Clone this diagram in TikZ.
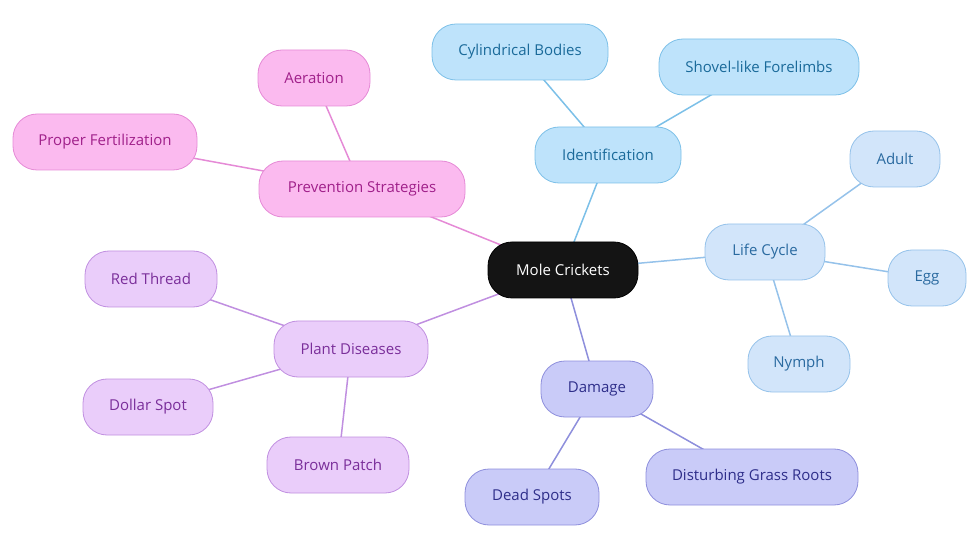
\documentclass[tikz,border=0pt]{standalone}
\usepackage{fontspec}
\setmainfont{Open Sans}
\usetikzlibrary{backgrounds}
\definecolor{bF}{HTML}{BEE3FB}\definecolor{bD}{HTML}{7CC0E8}\definecolor{bT}{HTML}{1A6A9A}
\definecolor{lF}{HTML}{D2E5FA}\definecolor{lD}{HTML}{95C2EA}\definecolor{lT}{HTML}{2A6AA0}
\definecolor{dF}{HTML}{C9CBF8}\definecolor{dD}{HTML}{8E8FDC}\definecolor{dT}{HTML}{2E2E8A}
\definecolor{pF}{HTML}{EACDFA}\definecolor{pD}{HTML}{C08FE0}\definecolor{pT}{HTML}{7A2E9A}
\definecolor{mF}{HTML}{FBBAEF}\definecolor{mD}{HTML}{E58AD6}\definecolor{mT}{HTML}{A0208A}
\begin{document}
\begin{tikzpicture}[x=1pt,y=-1pt,
 n/.style={rounded corners=24pt,minimum height=56pt,font=\fontsize{15}{17}\selectfont,draw,line width=0.8pt,inner sep=0pt},
 B/.style={n,fill=bF,draw=bD,text=bT},
 L/.style={n,fill=lF,draw=lD,text=lT},
 D/.style={n,fill=dF,draw=dD,text=dT},
 P/.style={n,fill=pF,draw=pD,text=pT},
 M/.style={n,fill=mF,draw=mD,text=mT},
 e/.style={line width=1.5pt}]
\useasboundingbox (0,0) rectangle (980,553);
\node[n,fill=black!92,draw=black,text=white,minimum width=150pt] (c) at (563,270) {Mole Crickets};
\node[B,minimum width=146pt] (id) at (608,155) {Identification};
\node[B,minimum width=176pt] (cb) at (520,52) {Cylindrical Bodies};
\node[B,minimum width=200pt] (sf) at (759,67) {Shovel-like Forelimbs};
\node[L,minimum width=120pt] (lc) at (765,252) {Life Cycle};
\node[L,minimum width=90pt] (ad) at (895,159) {Adult};
\node[L,minimum width=78pt] (eg) at (927,278) {Egg};
\node[L,minimum width=102pt] (ny) at (799,364) {Nymph};
\node[D,minimum width=112pt] (da) at (597,389) {Damage};
\node[D,minimum width=134pt] (ds) at (532,497) {Dead Spots};
\node[D,minimum width=212pt] (dg) at (752,477) {Disturbing Grass Roots};
\node[P,minimum width=154pt] (pd) at (351,349) {Plant Diseases};
\node[P,minimum width=132pt] (rt) at (151,279) {Red Thread};
\node[P,minimum width=130pt] (dsp) at (148,407) {Dollar Spot};
\node[P,minimum width=142pt] (bp) at (338,465) {Brown Patch};
\node[M,minimum width=206pt] (ps) at (362,189) {Prevention Strategies};
\node[M,minimum width=112pt] (ae) at (314,78) {Aeration};
\node[M,minimum width=184pt] (pf) at (105,142) {Proper Fertilization};
\begin{scope}[on background layer]
\draw[e,draw=bD] (c.center)--(id.center) (id.center)--(cb.center) (id.center)--(sf.center);
\draw[e,draw=lD] (c.center)--(lc.center) (lc.center)--(ad.center) (lc.center)--(eg.center) (lc.center)--(ny.center);
\draw[e,draw=dD] (c.center)--(da.center) (da.center)--(ds.center) (da.center)--(dg.center);
\draw[e,draw=pD] (c.center)--(pd.center) (pd.center)--(rt.center) (pd.center)--(dsp.center) (pd.center)--(bp.center);
\draw[e,draw=mD] (c.center)--(ps.center) (ps.center)--(ae.center) (ps.center)--(pf.center);
\end{scope}
\end{tikzpicture}
\end{document}
